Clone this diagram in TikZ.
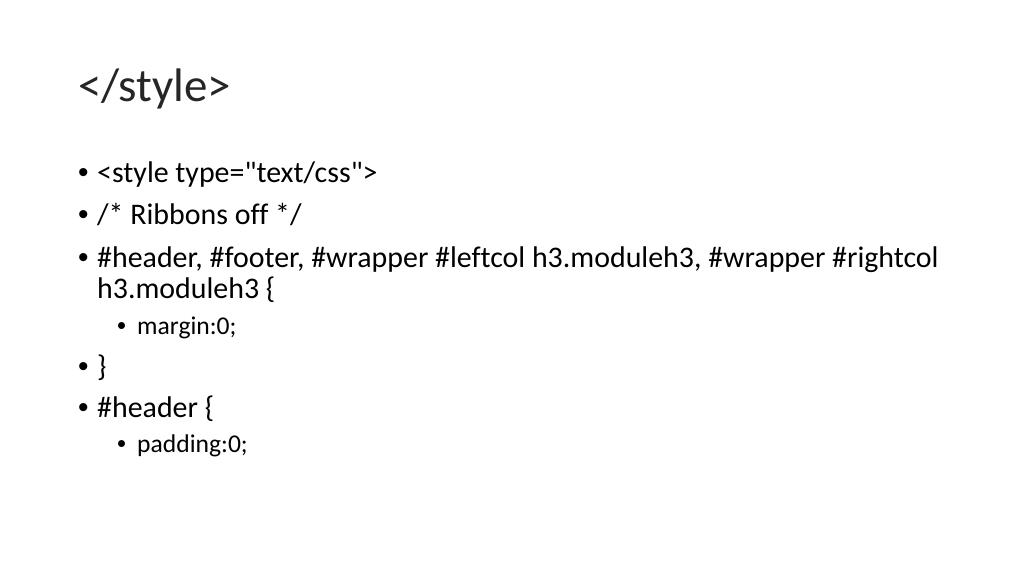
\documentclass[tikz,border=0pt]{standalone}
\usepackage{fontspec}
\setmainfont{Carlito}[Ligatures={TeXOff,CommonOff}]
\newfontfamily\bulletfont{Liberation Sans}
\tikzset{
  title/.style={anchor=base west, inner sep=0pt, font=\fontsize{47}{50}\selectfont, text=black!85},
  item/.style={anchor=base west, inner sep=0pt, font=\fontsize{29.9}{34}\selectfont},
  subitem/.style={anchor=base west, inner sep=0pt, font=\fontsize{25.6}{30}\selectfont},
  dot/.style={anchor=base west, inner sep=0pt, font=\bulletfont\fontsize{29.9}{34}\selectfont},
  subdot/.style={anchor=base west, inner sep=0pt, font=\bulletfont\fontsize{25.6}{30}\selectfont}
}
\begin{document}
\begin{tikzpicture}[x=1pt,y=-1pt]
\useasboundingbox (0,0) rectangle (1024,576);
\node[title] (head) at (78,101) {</style>};
% level one
\node[dot] (d1) at (78,182) {•};
\node[item] (l1) at (97,182) {<style type="text/css">};
\node[dot] (d2) at (78,224) {•};
\node[item] (l2) at (97,224) {/* Ribbons off */};
\node[dot] (d3) at (78,267) {•};
\node[item] (l3) at (97,267) {\#header, \#footer, \#wrapper \#leftcol h3.moduleh3, \#wrapper \#rightcol};
\node[item] (l3b) at (97,298) {h3.moduleh3 \{};
\node[subdot] (s1) at (117,334) {•};
\node[subitem] (m1) at (137,334) {margin:0;};
\node[dot] (d4) at (78,376) {•};
\node[item] (l4) at (97,376) {\}};
\node[dot] (d5) at (78,417) {•};
\node[item] (l5) at (97,417) {\#header \{};
\node[subdot] (s2) at (117,452) {•};
\node[subitem] (m2) at (137,452) {padding:0;};
\end{tikzpicture}
\end{document}
